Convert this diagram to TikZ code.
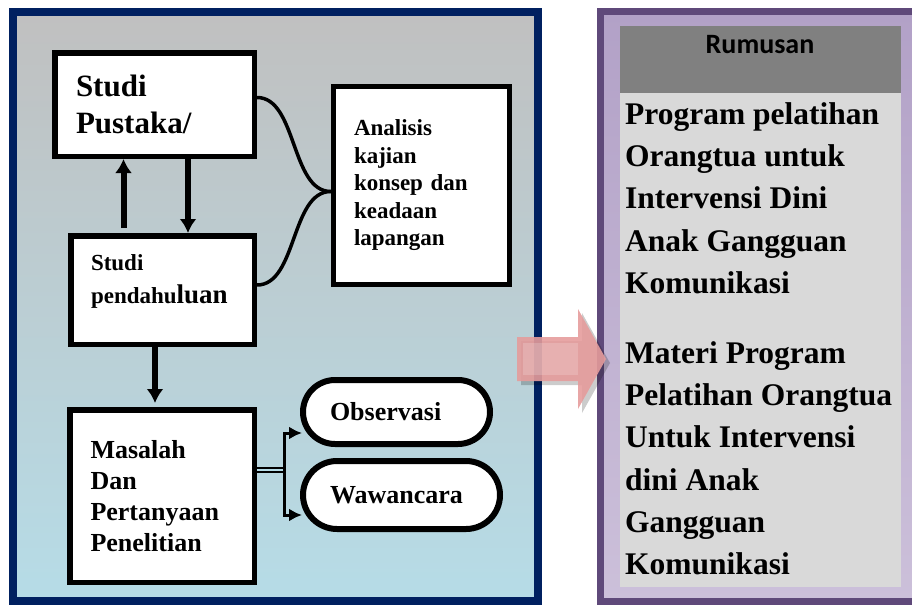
\documentclass[tikz,border=0pt]{standalone}
\usepackage{fontspec}
\setmainfont{Liberation Serif}
\newfontfamily\headfont{Carlito}
\usetikzlibrary{arrows.meta}

\definecolor{navy}{HTML}{002060}
\definecolor{paneltop}{HTML}{C0C0C0}
\definecolor{panelbot}{HTML}{B6DCE7}
\definecolor{lilacdark}{HTML}{5F497A}
\definecolor{lilactop}{HTML}{B2A1C7}
\definecolor{lilacbot}{HTML}{CCC0DA}
\definecolor{headgray}{HTML}{808080}
\definecolor{bodygray}{HTML}{D9D9D9}
\definecolor{pinkarrow}{HTML}{E59C9C}

\begin{document}
\begin{tikzpicture}[x=1pt, y=-1pt,
    box/.style={draw, line width=5.5pt, fill=white, align=left, inner ysep=0pt},
    pill/.style={box, line width=6pt},
    flow/.style={line width=6pt, -{Latex[length=14pt,width=17pt]}},
    link/.style={line width=3.5pt},
    branch/.style={line width=3pt, -{Latex[length=13pt,width=13pt]}},
    rumus/.style={anchor=north west, inner sep=0pt, align=left,
        font=\bfseries\fontsize{31.5}{42.2}\selectfont}]
    \useasboundingbox (0,0) rectangle (912,605);

    % left panel
    \shade[top color=paneltop, bottom color=panelbot] (12.5,12) rectangle (538,600.5);
    \draw[navy, line width=8pt] (12.5,12) rectangle (538,600.5);

    % right panel
    \shade[top color=lilactop, bottom color=lilacbot] (600.5,11.5) rectangle (916,601.5);
    \draw[lilacdark, line width=7pt] (600.5,11.5) rectangle (916,601.5);
    \fill[headgray] (620,26) rectangle (901,93);
    \fill[bodygray] (620,93) rectangle (901,587);

    \node[font=\headfont\bfseries\fontsize{28}{30}\selectfont, inner sep=0pt] (rumusan) at (760,45) {Rumusan};
    \node[rumus] (program) at (625,102.5) {Program pelatihan\\Orangtua untuk\\Intervensi Dini\\Anak Gangguan\\Komunikasi};
    \node[rumus] (materi) at (625,341.5) {Materi Program\\Pelatihan Orangtua\\Untuk Intervensi\\dini Anak\\Gangguan\\Komunikasi};

    % boxes
    \node[box, minimum width=199.5pt, minimum height=103.5pt, text width=157pt, inner xsep=21.25pt,
        font=\bfseries\fontsize{31}{37}\selectfont] (pustaka) at (154.5,104.5) {Studi\\Pustaka/};
    \node[box, minimum width=183.5pt, minimum height=108.5pt, text width=143pt, inner xsep=20.25pt,
        font=\bfseries\fontsize{23}{33}\selectfont] (pend) at (162.5,290)
        {Studi\\pendahu{\fontsize{27}{33}\selectfont luan}\rule[-22pt]{0pt}{22pt}};
    \node[box, minimum width=176pt, minimum height=198pt, text width=135pt, inner xsep=20.5pt,
        font=\bfseries\fontsize{23}{27.5}\selectfont] (analisis) at (421.5,185.5)
        {Analisis\\kajian\\konsep dan\\keadaan\\lapangan};
    \node[box, minimum width=184.5pt, minimum height=172.5pt, text width=143pt, inner xsep=20.75pt,
        font=\bfseries\fontsize{26}{31}\selectfont] (masalah) at (162,496)
        {Masalah\\Dan\\Pertanyaan\\Penelitian};
    \node[pill, rounded corners=32pt, minimum width=187pt, minimum height=64pt, text width=133pt, inner xsep=27pt,
        font=\bfseries\fontsize{26}{31}\selectfont] (obs) at (396.5,412) {Observasi};
    \node[pill, rounded corners=34pt, minimum width=197pt, minimum height=68pt, text width=143pt, inner xsep=27pt,
        font=\bfseries\fontsize{26}{31}\selectfont] (waw) at (401.5,495) {Wawancara};

    % arrows
    \coordinate (upfoot) at ([xshift=-39pt]pend.north);
    \coordinate (downfoot) at ([xshift=33.5pt]pustaka.south);
    \coordinate (midfoot) at ([xshift=-7.5pt]pend.south);
    \draw[flow] ([yshift=5pt]upfoot) -- (upfoot |- pustaka.south);
    \draw[flow] (downfoot) -- (downfoot |- pend.north);
    \draw[flow] (midfoot) -- ([yshift=4pt]midfoot |- masalah.north);

    \draw[link] ([yshift=7pt]pustaka.east) .. controls +(40,0) and +(-40,0) .. ([yshift=-6pt]analisis.west);
    \draw[link] ([yshift=5pt]pend.east) .. controls +(40,0) and +(-40,0) .. ([yshift=-6pt]analisis.west);

    \coordinate (fork) at ([xshift=27pt,yshift=26pt]masalah.east);
    \draw[line width=2pt, double=panelbot, double distance=2pt] (masalah.east |- fork) -- (fork);
    \draw[branch] (fork) |- ([xshift=2pt,yshift=-21pt]obs.west);
    \draw[branch] (fork) |- ([xshift=2pt,yshift=-20pt]waw.west);

    % big arrow
    \fill[black, opacity=0.2] (521,341) -- (582,341) -- (582,313) -- (610,363) -- (582,413) -- (582,385) -- (521,385) -- cycle;
    \fill[pinkarrow, fill opacity=0.9] (517,337) -- (578,337) -- (578,309) -- (606,359) -- (578,409) -- (578,381) -- (517,381) -- cycle;
    \fill[white, opacity=0.18] (523,343) -- (578,343) -- (578,375) -- (523,375) -- cycle;
\end{tikzpicture}
\end{document}
